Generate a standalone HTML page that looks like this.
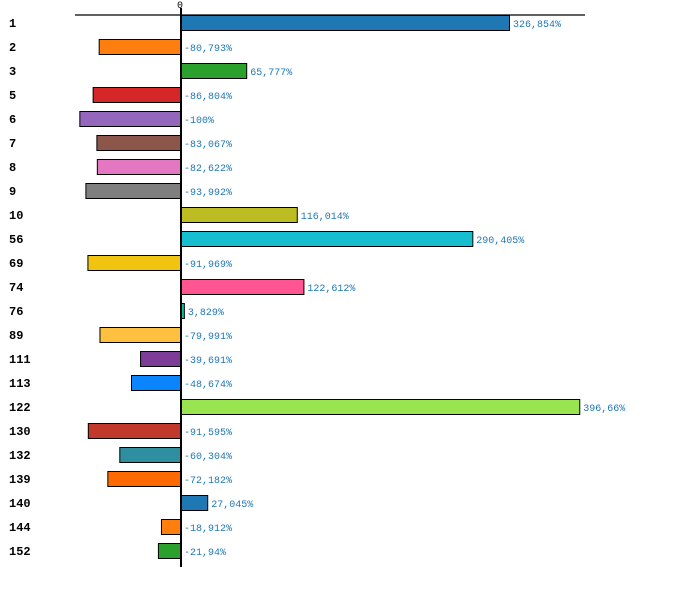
<!DOCTYPE html>
<html><head><meta charset="utf-8"><style>
body{margin:0;background:#fff;}
svg{display:block;font-family:"Liberation Mono",monospace;}
.cat{font-weight:bold;font-size:12px;fill:#000;}
.val{font-size:10px;fill:#1f77b4;}
</style></head><body>
<svg id="chart" width="700" height="597"></svg>
<script>
const categories=["1","2","3","5","6","7","8","9","10","56","69","74","76","89","111","113","122","130","132","139","140","144","152"];
const values=[326.854,-80.793,65.777,-86.804,-100,-83.067,-82.622,-93.992,116.014,290.405,-91.969,122.612,3.829,-79.991,-39.691,-48.674,396.66,-91.595,-60.304,-72.182,27.045,-18.912,-21.94];
const labels=["326,854%","-80,793%","65,777%","-86,804%","-100%","-83,067%","-82,622%","-93,992%","116,014%","290,405%","-91,969%","122,612%","3,829%","-79,991%","-39,691%","-48,674%","396,66%","-91,595%","-60,304%","-72,182%","27,045%","-18,912%","-21,94%"];
const colors=["#1f77b4","#ff7f0e","#2ca02c","#d62728","#9467bd","#8c564b","#e377c2","#7f7f7f","#bcbd22","#17becf","#f1c40f","#ff5590","#1abc9c","#ffc040","#7d3c98","#0a84ff","#99e550","#c0392b","#2e8fa0","#ff6a00","#1f77b4","#ff7f0e","#2ca02c"];
const ns="http://www.w3.org/2000/svg";
const svgEl=document.getElementById('chart');
const x0=180, k=329/326.854;
const xs=v=>x0+v*k;
const ys=i=>15+i*24;
function mk(t,a){const e=document.createElementNS(ns,t);for(const n in a)e.setAttribute(n,a[n]);svgEl.appendChild(e);return e;}
const topAxis=mk('line',{x1:75,x2:585,y1:15,y2:15,stroke:'#000','stroke-width':1.2});


categories.forEach((c,i)=>{
  const v=values[i];
  const r=mk('rect',{x:Math.min(xs(v),x0)+0.5,y:ys(i)+0.5,width:Math.abs(xs(v)-x0),height:15,fill:colors[i],stroke:'#000','stroke-width':1});
  
  
  const t=mk('text',{x:9,y:ys(i)+12,class:'cat'});t.textContent=c;
  
  
  const vl=mk('text',{x:Math.max(xs(v),x0)+4,y:ys(i)+12,class:'val'});vl.textContent=labels[i];
  
  
});
const ax=mk('line',{x1:181,x2:181,y1:8,y2:567,stroke:'#000','stroke-width':2});


const z=mk('text',{x:180,y:8,'text-anchor':'middle','font-size':'10px'});z.textContent='0';


</script>
</body></html>
